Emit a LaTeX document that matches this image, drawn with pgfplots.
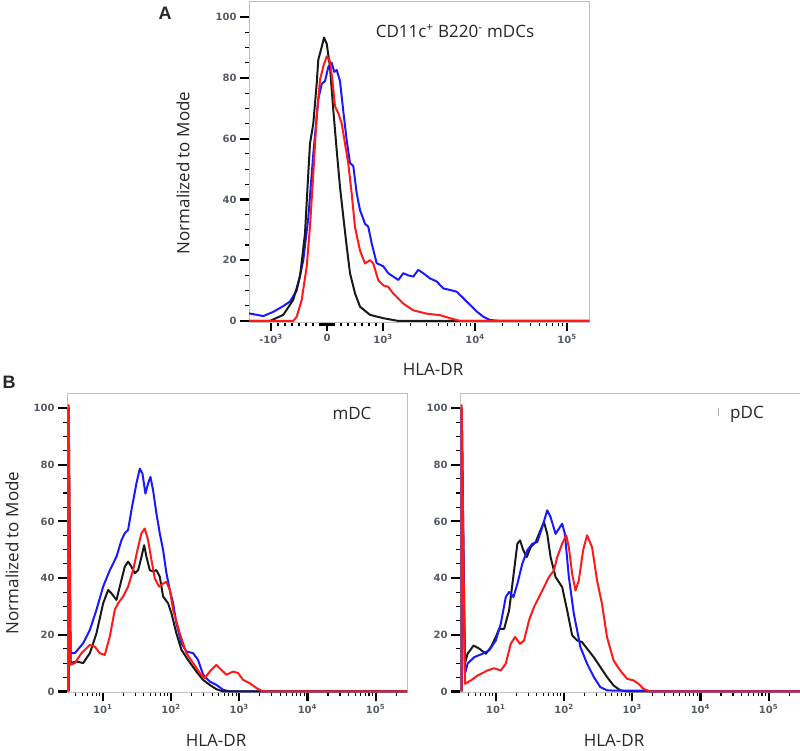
\documentclass[border=0pt]{standalone}
\usepackage{fontspec}
\setmainfont{Open Sans}
\newfontfamily\tickfont{DejaVu Sans}
\newfontfamily\panelfont{Liberation Sans}
\usepackage{pgfplots}
\pgfplotsset{compat=1.18}
\definecolor{fjblue}{RGB}{25,25,255}
\definecolor{fjred}{RGB}{255,25,25}
\definecolor{fjblack}{RGB}{25,25,25}
\definecolor{fjtick}{RGB}{85,90,100}

\pgfplotsset{
  flowpanel/.style={
    scale only axis,
    anchor=south west,
    axis line style={gray!50,line width=1pt},
    tick align=outside,
    tick pos=left,
    major tick length=9pt,
    minor tick length=4pt,
    major tick style={black,line width=2.2pt},
    minor tick style={black,line width=1.1pt},
    ticklabel style={font=\tickfont\bfseries\fontsize{10}{12}\selectfont,text=fjtick},
    ytick={0,20,40,60,80,100},
    yticklabels={0,20,40,60,80,100},
    minor y tick num=3,
    every axis plot/.append style={line width=2pt,line join=round},
  },
  logpanel/.style={
    flowpanel,
    width=340pt, height=299pt,
    xmin=0.475, xmax=5.46,
    ymin=-0.2, ymax=105.3,
    xtick={1,2,3,4,5},
    xticklabels={10\textsuperscript{1},10\textsuperscript{2},10\textsuperscript{3},10\textsuperscript{4},10\textsuperscript{5}},
    minor xtick={0.602,0.699,0.778,0.845,0.903,0.954,
      1.301,1.477,1.602,1.699,1.778,1.845,1.903,1.954,
      2.301,2.477,2.602,2.699,2.778,2.845,2.903,2.954,
      3.301,3.477,3.602,3.699,3.778,3.845,3.903,3.954,
      4.301,4.477,4.602,4.699,4.778,4.845,4.903,4.954,
      5.301},
  },
}

\begin{document}
\begin{tikzpicture}
\useasboundingbox (0,0) rectangle (800pt,-751pt);

% panel A, biexponential display scale (0 at x=0, one decade ~ 92 units)
\begin{axis}[flowpanel,
  at={(249pt,-322pt)},
  width=340pt, height=320pt,
  xmin=-78, xmax=262,
  ymin=-0.35, ymax=105,
  xtick={-56,0,56,148,240},
  xticklabels={-10\textsuperscript{3},0,10\textsuperscript{3},10\textsuperscript{4},10\textsuperscript{5}},
  minor xtick={-49,-42,-35,-28,-21,-14,-7,-6,-4,-2,2,4,6,7,14,21,28,35,42,49,
    83.7,99.9,111.4,120.3,127.6,133.7,139.1,143.8,
    175.7,191.9,203.4,212.3,219.6,225.7,231.1,235.8},
]
\addplot[fjblue] coordinates {
  (-78,2.5) (-63.7,1.6) (-53.7,3) (-43.7,4.9) (-37,6.4) (-30.3,10) (-23.7,20)
  (-18.7,34) (-13.7,55) (-8.7,73) (-5.3,78) (-2,79) (1.3,83.6) (4.7,85)
  (7.3,82) (9.7,82.6) (13,79) (16.3,69) (19.7,59.5) (23,52) (26.3,51)
  (29.7,42) (33,36.5) (38,32) (41.3,31) (44.7,25.5) (49.7,19) (56.3,18)
  (61.3,15.7) (66.3,14.6) (71.3,13.5) (76.3,15.7) (81.3,15) (86.3,14.6)
  (91.3,16.8) (96.3,15.7) (103,14) (109.7,13) (116.3,10.7) (123,10.2)
  (129.7,9.6) (136.3,7.5) (143,5.3) (149.7,3.1) (156.3,1.4) (163,0.3)
  (173,0) (262,0)
};
\addplot[fjblack] coordinates {
  (-78,0) (-57,0) (-43.7,2) (-33.7,7) (-27,14.6) (-22,28.8) (-18.7,48.6)
  (-17,58.4) (-13.7,65) (-10.3,78.2) (-8.7,86) (-5.3,90.2) (-3,93.3)
  (-0.3,91.3) (3,83.6) (6.3,69.4) (9.7,56.2) (13,44.1) (16.3,34.3)
  (19.7,24.5) (23,15.7) (28,9.1) (33,4.7) (43,2) (56.3,0.9) (71.3,0) (262,0)
};
\addplot[fjred] coordinates {
  (-78,0) (-33.7,0) (-30.3,1.4) (-25.3,6.9) (-20.3,17.9) (-17,31.1)
  (-13.7,48.6) (-10.3,67.3) (-7,79.4) (-3.7,83.8) (-0.3,87.1) (3,85.5)
  (5.7,78.2) (8,70.6) (11.3,68.4) (14.7,65) (18,58.4) (21.3,51.8)
  (24.7,41.9) (28,30.9) (33,23.2) (38,18.9) (43,20) (46.3,18.9) (51.3,13.4)
  (56.3,11.7) (61.3,11.2) (66.3,9) (76.3,5.7) (86.3,3.5) (99.7,2.4)
  (113,1.9) (123,0.9) (133,0) (262,0)
};
\end{axis}

% panel B, mDC (x = log10 of HLA-DR)
\begin{axis}[logpanel, at={(67pt,-692pt)}]
\addplot[fjblue] coordinates {
  (0.50,0) (0.50,100) (0.516,13.5) (0.590,13.5) (0.712,17) (0.810,21.7)
  (0.907,28.8) (1.005,37) (1.103,42.8) (1.200,47.5) (1.274,53.4) (1.322,55.8)
  (1.371,57) (1.420,64) (1.493,73.4) (1.542,78.6) (1.581,76.9) (1.625,69.8)
  (1.664,73.4) (1.698,75.7) (1.737,71) (1.786,62.8) (1.835,55.8) (1.884,49.9)
  (1.933,41.7) (1.982,35.8) (2.031,31.1) (2.079,24.1) (2.153,17) (2.226,14.1)
  (2.324,13.5) (2.397,11.1) (2.470,5.9) (2.568,3.5) (2.665,2.3) (2.763,0.6)
  (2.861,0) (5.46,0)
};
\addplot[fjblack] coordinates {
  (0.50,0) (0.50,100) (0.530,10) (0.614,10.6) (0.712,10) (0.810,13.5)
  (0.907,20.5) (1.005,31.1) (1.078,35.8) (1.127,34.6) (1.200,32.3)
  (1.249,37) (1.322,44) (1.371,45.8) (1.420,44) (1.469,41.7) (1.518,42.8)
  (1.567,47.5) (1.606,51.6) (1.640,47.5) (1.689,42.8) (1.737,42.3)
  (1.786,42.8) (1.835,40.5) (1.884,33.5) (1.957,31.1) (2.006,27.6)
  (2.079,20.5) (2.153,14.7) (2.250,11.1) (2.372,7) (2.470,4.1) (2.568,2.3)
  (2.665,0.8) (2.763,0) (5.46,0)
};
\addplot[fjred] coordinates {
  (0.50,0) (0.50,101) (0.526,9.4) (0.590,10) (0.687,13.5) (0.810,16.4)
  (0.883,15.8) (0.956,13.5) (1.029,12.9) (1.103,19.4) (1.176,28.8)
  (1.225,31.1) (1.298,33.5) (1.371,37) (1.444,42.8) (1.518,51) (1.567,55.8)
  (1.615,57.5) (1.664,53.4) (1.713,46.4) (1.762,39.9) (1.825,37) (1.884,38.1)
  (1.933,38.7) (1.982,35.8) (2.031,28.8) (2.128,20.5) (2.226,13.5) (2.324,10)
  (2.421,6.5) (2.494,4.7) (2.568,7) (2.665,9.4) (2.739,7.6) (2.812,5.9)
  (2.910,7) (2.983,6.5) (3.056,4.1) (3.154,2.9) (3.252,1.2) (3.349,0) (5.46,0)
};
\end{axis}

% panel B, pDC
\begin{axis}[logpanel, at={(460pt,-692pt)}]
\addplot[fjblack] coordinates {
  (0.50,0) (0.50,100) (0.547,9.8) (0.586,13.3) (0.674,16.2) (0.757,15.1)
  (0.854,13.3) (0.927,15.6) (1.0,19.2) (1.049,22.1) (1.122,22.1) (1.195,28.6)
  (1.268,42.7) (1.316,52.1) (1.355,53.3) (1.404,49.8) (1.453,47.4)
  (1.511,50.9) (1.584,52.7) (1.633,55.6) (1.706,59.8) (1.754,55.6)
  (1.803,47.4) (1.876,40.4) (1.973,36.8) (2.046,28.6) (2.119,19.8) (2.192,18)
  (2.265,17.4) (2.338,15.1) (2.436,12.1) (2.533,8.6) (2.630,5.1) (2.727,2.1)
  (2.825,0.4) (2.922,0) (5.46,0)
};
\addplot[fjblue] coordinates {
  (0.50,0) (0.50,100) (0.547,6.2) (0.586,9.8) (0.684,12.1) (0.805,13.3)
  (0.903,14.5) (1.0,18) (1.073,23.9) (1.146,33.3) (1.195,35.1) (1.258,33.3)
  (1.316,38) (1.389,45.1) (1.462,49.8) (1.535,52.1) (1.608,52.7) (1.681,58)
  (1.754,63.9) (1.803,61.5) (1.876,55.6) (1.925,57.4) (1.973,59.2)
  (2.012,55.6) (2.071,40.4) (2.144,27.4) (2.241,15.6) (2.338,9.8) (2.436,5.1)
  (2.533,1.5) (2.630,0.4) (2.727,0.3) (3.165,0.3) (3.263,0) (5.46,0)
};
\addplot[fjred] coordinates {
  (0.50,0) (0.50,101) (0.547,2.7) (0.635,3.9) (0.732,5.6) (0.878,7.4)
  (0.976,8.2) (1.073,7.4) (1.146,9.8) (1.219,16.8) (1.282,19.2) (1.355,16.8)
  (1.414,18) (1.487,25.1) (1.560,29.8) (1.633,33.3) (1.706,36.8) (1.779,40.4)
  (1.852,42.7) (1.900,47.4) (1.973,52.1) (2.032,55.1) (2.071,50.9)
  (2.119,41.5) (2.168,35.6) (2.217,39.2) (2.280,49.8) (2.338,55.1)
  (2.411,50.9) (2.484,39.2) (2.557,30.9) (2.630,19.2) (2.727,10.9)
  (2.825,7.4) (2.922,4.5) (3.019,3.9) (3.092,2.7) (3.165,0.9) (3.263,0) (5.46,0)
};
\end{axis}

\begin{scope}[every node/.style={font=\fontsize{17}{20}\selectfont,text=black!85}]
\node[font=\panelfont\bfseries\fontsize{18}{20}\selectfont] at (165pt,-13pt) {A};
\node[font=\panelfont\bfseries\fontsize{18}{20}\selectfont] at (9pt,-382pt) {B};
\node at (455pt,-31pt) {CD11c\textsuperscript{+} B220\textsuperscript{-} mDCs};
\node[rotate=90] at (183pt,-173pt) {Normalized to Mode};
\node at (433pt,-369pt) {HLA-DR};
\node[rotate=90] at (12pt,-553pt) {Normalized to Mode};
\node[inner sep=1pt] at (216pt,-740pt) {HLA-DR};
\node[inner sep=1pt] at (614pt,-740pt) {HLA-DR};
\node at (352pt,-413pt) {mDC};
\node at (747pt,-414pt) {pDC};
\end{scope}
\draw[gray!60,line width=0.8pt] (718pt,-408pt) -- (718pt,-416pt);
\end{tikzpicture}
\end{document}
